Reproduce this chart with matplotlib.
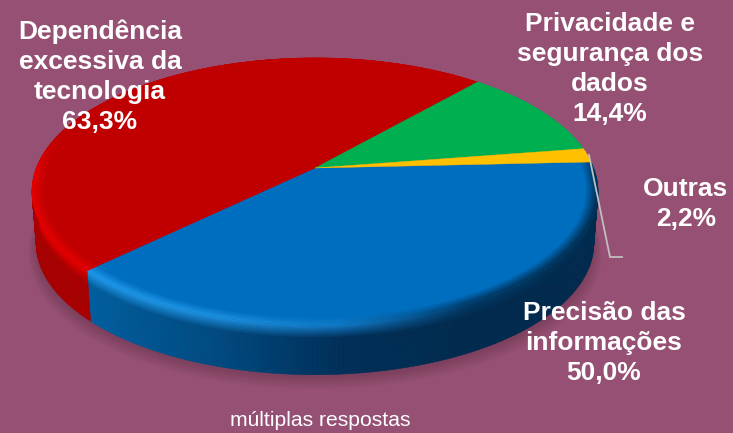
#!/usr/bin/env python3
# -*- coding: utf-8 -*-
import numpy as np
import matplotlib
matplotlib.use('Agg')
import matplotlib.pyplot as plt
from matplotlib.collections import PolyCollection
from matplotlib.colors import to_rgb

categorias = ["Precisão das\ninformações", "Dependência\nexcessiva da\ntecnologia",
              "Privacidade e\nsegurança dos\ndados", "Outras"]
valores = [50.0, 63.3, 14.4, 2.2]
nota = "múltiplas respostas"

FUNDO = '#955073'
cores = ['#006EBF', '#C00000', '#00B050', '#FFC000']
# cor da borda chanfrada e da parede lateral (da esquerda para a direita)
cor_borda = [['#1E98EA', '#1C90DE', '#0F78C4', '#003A66', '#002F52'],
             ['#E40000'] * 5, ['#00B050'] * 5, ['#FFC000'] * 5]
cor_parede = [['#005E9E', '#004A80', '#002F58', '#002B4E', '#002B4E'],
              ['#A80000'] * 5, ['#008040'] * 5, ['#C09000'] * 5]

# perspectiva da pizza: centro, escalas, inclinacao, altura da parede
CX, CY, SX, SY, K, ALTURA = 315, 168, 278.6, 129.4, 0.176, 52
INICIO = 2.7  # graus, fronteira azul/amarelo


def projeta(r, theta, dy=0.0, esc=1.0):
    x = r * np.cos(theta)
    y = r * np.sin(theta)
    d = 1 + K * y
    return np.column_stack([CX + esc * SX * x / d, CY - esc * SY * y / d + dy])


def degrade(lista, t):
    rgb = np.array([to_rgb(c) for c in lista])
    pos = np.linspace(0, 1, len(lista))
    return np.column_stack([np.interp(t, pos, rgb[:, i]) for i in range(3)])


def mistura(a, b, f):
    return a * (1 - f) + b * f


fig = plt.figure(figsize=(7.33, 4.33), dpi=100, facecolor=FUNDO)
ax = fig.add_axes([0, 0, 1, 1])
ax.set_xlim(0, 733)
ax.set_ylim(433, 0)
ax.axis('off')

# angulos das fatias, sentido horario a partir do inicio
total = sum(valores)
angulos = np.radians(INICIO - np.concatenate([[0], np.cumsum(valores)]) / total * 360)

# sombra suave no fundo
th = np.linspace(0, 2 * np.pi, 200)
for i in range(8):
    ax.fill(*projeta(1.0, th, ALTURA + 3 + i, 0.985 + i * 0.004).T, color='black', alpha=0.02, lw=0)

polys, faces = [], []
for i in range(len(valores)):
    n = max(int(abs(angulos[i + 1] - angulos[i]) * 80), 3)
    t = np.linspace(angulos[i], angulos[i + 1], n + 1)
    topo = projeta(1.0, t)
    base = projeta(1.0, t, ALTURA, 0.985)
    u = (topo[:, 0] - 93) / (597 - 93)
    frente = np.clip((-np.sin(t) + 0.25) / 0.3, 0, 1)[:, None]
    c_base = np.array(to_rgb(cores[i]))
    c_borda = mistura(c_base, degrade(cor_borda[i], np.clip(u, 0, 1)), frente)
    c_parede = degrade(cor_parede[i], np.clip(u, 0, 1))
    # parede lateral
    niveis = np.concatenate([np.linspace(0, 0.25, 8), [1.0]])
    for a, b in zip(niveis[:-1], niveis[1:]):
        for j in range(n):
            q = [mistura(topo[j], base[j], a), mistura(topo[j + 1], base[j + 1], a),
                 mistura(topo[j + 1], base[j + 1], b), mistura(topo[j], base[j], b)]
            polys.append(q)
            faces.append(mistura(c_borda[j], c_parede[j], min(a * 4, 1)))
parede = PolyCollection(polys, facecolors=faces, edgecolors=faces, linewidths=0.4)
ax.add_collection(parede)

# tampa: fatias e chanfro na borda
polys, faces = [], []
for i in range(len(valores)):
    n = max(int(abs(angulos[i + 1] - angulos[i]) * 80), 3)
    t = np.linspace(angulos[i], angulos[i + 1], n + 1)
    ax.fill(*np.vstack([[[CX, CY]], projeta(1.0, t)]).T, color=cores[i], lw=0.3)
    u = (projeta(1.0, t)[:, 0] - 93) / (597 - 93)
    frente = np.clip((-np.sin(t) + 0.25) / 0.3, 0, 1)[:, None]
    c_base = np.array(to_rgb(cores[i]))
    c_borda = mistura(c_base, degrade(cor_borda[i], np.clip(u, 0, 1)), frente)
    raios = np.linspace(0.96, 1.0, 8)
    for a, b in zip(raios[:-1], raios[1:]):
        f = (b - 0.96) / 0.04
        for j in range(n):
            p1 = projeta(a, t[j:j + 2])
            p2 = projeta(b, t[j:j + 2])
            polys.append([p1[0], p1[1], p2[1], p2[0]])
            faces.append(mistura(c_base, c_borda[j], f))
ax.add_collection(PolyCollection(polys, facecolors=faces, edgecolors=faces, linewidths=0.3))

# linha guia de Outras
ax.plot([589, 610, 622], [155, 257, 257], color='#BFBFBF', lw=1.3, solid_joinstyle='miter')

# rotulos
pos_rotulos = [(604, 343), (100, 77), (610, 69), (686, 204)]
fmt = [f"{v:.1f}".replace('.', ',') + '%' for v in valores]
for nome, v, (x, y) in zip(categorias, fmt, pos_rotulos):
    ax.text(x, y, nome + "\n" + v, color='white', fontsize=19, fontweight='bold',
            family='Liberation Sans', ha='center', va='center', linespacing=1.31)
ax.text(320, 420, nota, color='white', fontsize=15.2, family='Liberation Sans', ha='center', va='center')

fig.savefig('out.png', dpi=100, facecolor=FUNDO)
